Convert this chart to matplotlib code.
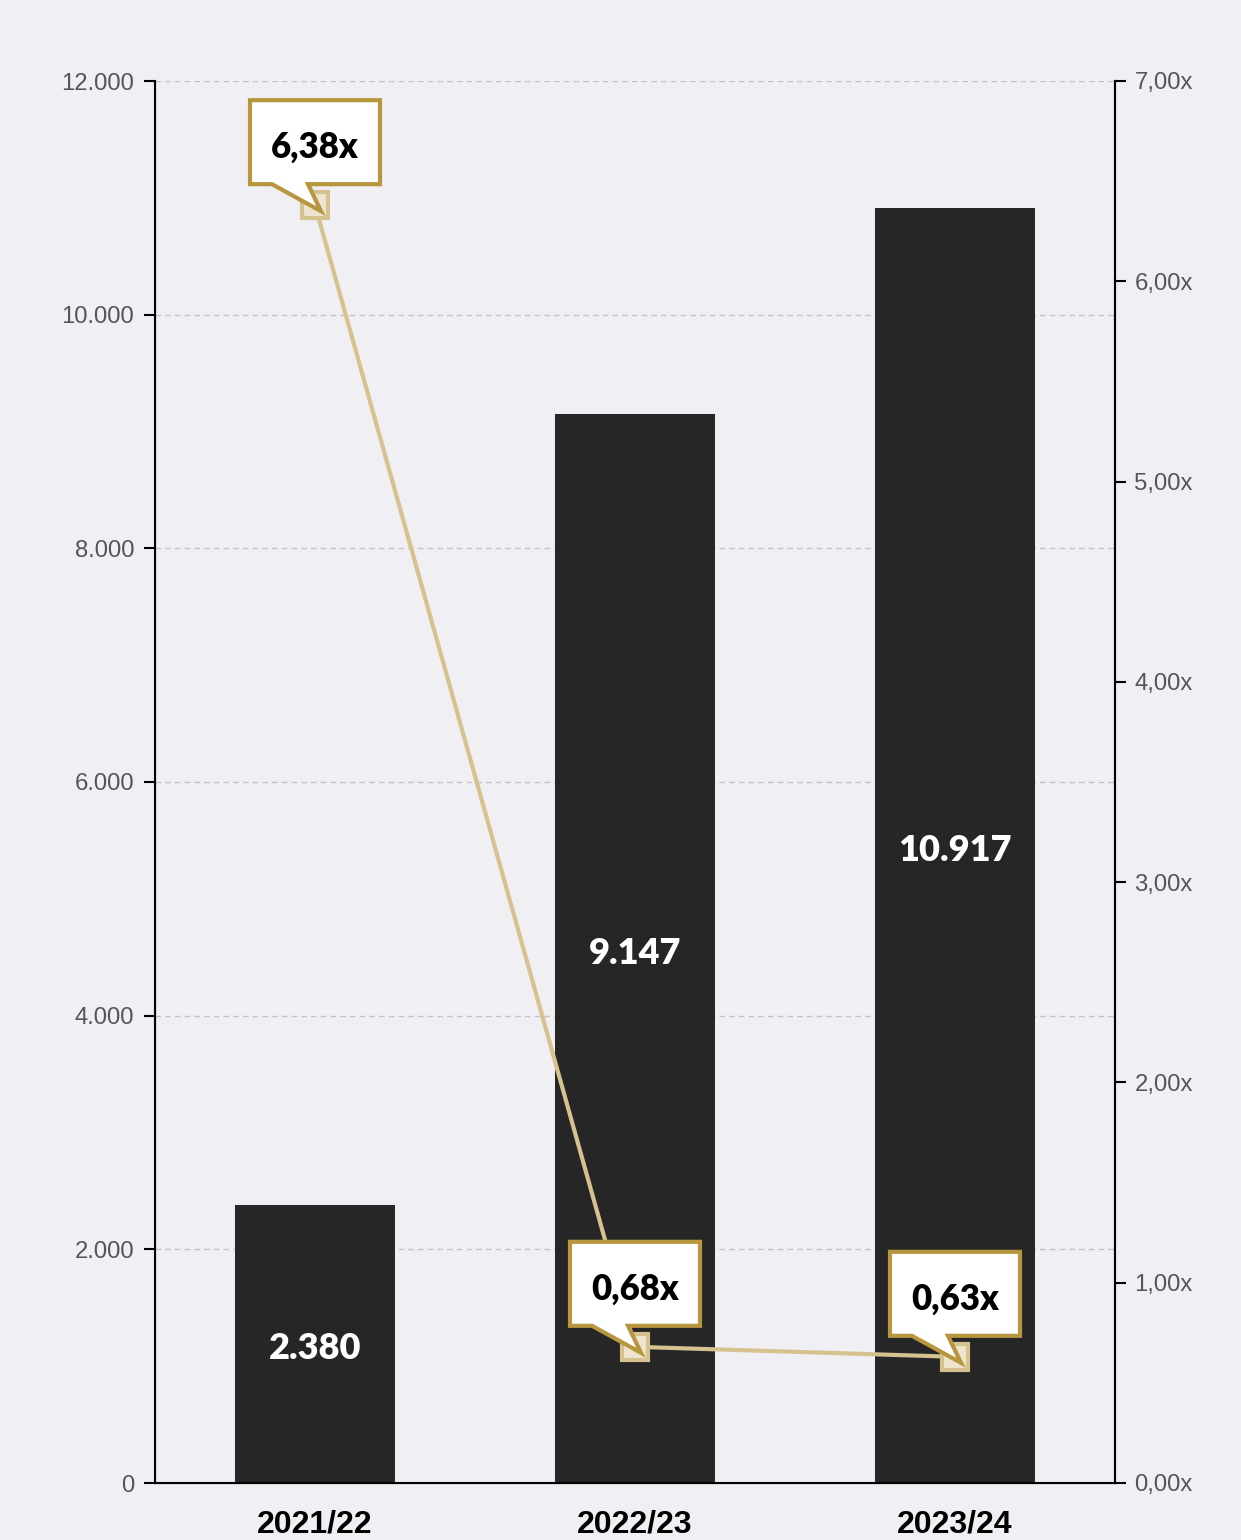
import matplotlib.pyplot as plt
import matplotlib.transforms as mtransforms
from matplotlib.patches import Polygon

# data
years = ['2021/22', '2022/23', '2023/24']
values = [2380, 9147, 10917]
value_labels = ['2.380', '9.147', '10.917']
ratios = [6.38, 0.68, 0.63]
ratio_labels = ['6,38x', '0,68x', '0,63x']
left_ticks = [0, 2000, 4000, 6000, 8000, 10000, 12000]
left_tick_labels = ['0', '2.000', '4.000', '6.000', '8.000', '10.000', '12.000']
right_ticks = [0, 1, 2, 3, 4, 5, 6, 7]
right_tick_labels = ['0,00x', '1,00x', '2,00x', '3,00x', '4,00x', '5,00x', '6,00x', '7,00x']

bg = '#f0f0f4'
bar_color = '#262626'
line_color = '#d6c28f'
gold = '#b8963e'

plt.rcParams['font.family'] = ['Liberation Sans', 'DejaVu Sans']

fig = plt.figure(figsize=(12.41, 15.4), dpi=100, facecolor=bg)
W, H = 1241, 1540
ax = fig.add_axes([155 / W, 1 - 1483 / H, 960 / W, 1402 / H])
ax.set_facecolor(bg)

x = range(len(years))
ax.bar(x, values, width=0.5, color=bar_color, zorder=2)
ax.set_xlim(-0.5, 2.5)
ax.set_ylim(0, 12000)
ax.set_yticks(left_ticks)
ax.set_yticklabels(left_tick_labels, fontsize=17.2, color='#555555')
ax.set_xticks(list(x))
ax.set_xticklabels(years, fontsize=23, fontweight='bold', color='black')
ax.tick_params(axis='x', length=0, pad=19)
ax.tick_params(axis='y', length=8, width=1.5, color='black', pad=7)
for y in left_ticks[1:]:
    ax.axhline(y, color='#c4c4c8', lw=1, ls=(0, (4, 3)), zorder=1)
ax.spines['top'].set_visible(False)
for s in ['left', 'right', 'bottom']:
    ax.spines[s].set_linewidth(1.5)
    ax.spines[s].set_color('black')

# value labels inside bars
for i, v in enumerate(values):
    ax.annotate(value_labels[i], (i, v / 2), xytext=(0, -5), textcoords='offset pixels',
                ha='center', va='center', color='white', fontsize=26, fontweight='heavy',
                family=['Lato', 'DejaVu Sans'], zorder=3)

# right axis with ratio line
ax2 = ax.twinx()
ax2.set_ylim(0, 7)
ax2.set_yticks(right_ticks)
ax2.set_yticklabels(right_tick_labels, fontsize=17.2, color='#555555')
ax2.tick_params(axis='y', length=8, width=1.5, color='black', pad=6)
ax2.spines['top'].set_visible(False)
ax2.spines['right'].set_linewidth(1.5)
ax2.plot(list(x), ratios, color=line_color, lw=3, zorder=3)
ax2.plot(list(x), ratios, ls='none', marker='s', markersize=19, markerfacecolor='#eee4cf',
         markeredgecolor=line_color, markeredgewidth=3, zorder=4)

# callouts (offsets in pixels from the point, y up)
shape = [(-65, 21), (-43, 21), (6, -6), (-7, 21), (65, 21), (65, 105), (-65, 105)]
for i, r in enumerate(ratios):
    tr = fig.dpi_scale_trans + mtransforms.ScaledTranslation(i, r, ax2.transData)
    poly = Polygon([(px / 100, py / 100) for px, py in shape], closed=True,
                   facecolor='white', edgecolor=gold, lw=3, transform=tr, zorder=5,
                   joinstyle='miter', clip_on=False)
    ax2.add_patch(poly)
    ax2.annotate(ratio_labels[i], (i, r), xytext=(0, 58), textcoords='offset pixels',
                 ha='center', va='center', fontsize=25, fontweight='heavy', color='black',
                 family=['Lato', 'DejaVu Sans'], zorder=6)

fig.savefig('out.png', dpi=100, facecolor=bg)
